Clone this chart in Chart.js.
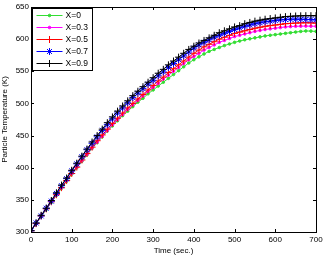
<!DOCTYPE html>
<html>
<head>
<meta charset="utf-8">
<script src="https://cdn.jsdelivr.net/npm/chart.js@4/dist/chart.umd.min.js"></script>
<style>
  html, body { margin: 0; padding: 0; background: #fff; }
  #wrap { width: 328px; height: 262px; }
</style>
</head>
<body>
<div id="wrap"><canvas id="chart" width="328" height="262"></canvas></div>
<script>
// time axis, one sample every 12.5 s
const times = [0,12.5,25,37.5,50,62.5,75,87.5,100,112.5,125,137.5,150,162.5,175,187.5,200,212.5,225,237.5,250,262.5,275,287.5,300,312.5,325,337.5,350,362.5,375,387.5,400,412.5,425,437.5,450,462.5,475,487.5,500,512.5,525,537.5,550,562.5,575,587.5,600,612.5,625,637.5,650,662.5,675,687.5,700];

const tempX0 = [302,313,324,335,346,357,368,379,390,400,410,420,430,439,448,457,465,473,481,488,495,502,508,515,521,527,533,539,545,551,557,563,568,572.5,577,581,584,587,590,592.5,595,597,599,600.5,602,603.5,605,606,607,608,609,610,611,612,612.7,612.5,612];
const tempX03 = [302,313,325,336,347,358,369,380,391,401,411,421,431,440,449,458,467,475,483,491,498,505,512,519,525,531,538,544,550,556,562,568,573,578,583,587,591,595,598,601,604,606,608,610,612,613.5,615,616,617,618,619,619.5,620,620.2,620.3,620.2,620];
const tempX05 = [302,313,325,336,347,358,369,380,391,401,412,422,432,442,451,460,469,477,485,493,500,507,514,521,528,535,541,548,554,560,566,572,578,583,588,592,596,600,603,606,609,611,613,615,617,618.5,620,621,622,623,624,624.5,625,625.3,625.5,625.3,625];
const tempX07 = [302,314,325,337,348,360,372,383,395,406,417,428,438,448,458,467,476,485,493,501,509,516,523,530,536,543,549,556,562,568,574,580,586,591,595,599,603,606,609,612,615,617.5,620,622,624,625.5,627,628,629,630,630.5,631,631,631,630.7,630.4,630];
const tempX09 = [302,314,326,337,349,361,373,384,396,407,418,429,440,450,460,470,479,488,496,504,512,519,526,533,540,547,553,560,566,572,578,584,589,594,598,602,606,610,613,616,619,621,624,626,628,629.5,631,632,633,634,635,635.5,636,636.3,636.5,636.5,636.5];

const xTicks = [0,100,200,300,400,500,600,700];
const yTicks = [300,350,400,450,500,550,600,650];

const series = [
  { label: 'X=0',   data: tempX0,  color: '#33dd33', style: 'circle', r: 1.3, order: 4 },
  { label: 'X=0.3', data: tempX03, color: '#ff00ff', style: 'circle', r: 1.3, order: 3 },
  { label: 'X=0.5', data: tempX05, color: '#ff0000', style: 'cross',  r: 3.5, order: 2 },
  { label: 'X=0.7', data: tempX07, color: '#0000ff', style: 'star',   r: 3.5, order: 1 },
  { label: 'X=0.9', data: tempX09, color: '#000000', style: 'cross',  r: 3.5, order: 0 },
];

const FONT = 'Liberation Sans, Arial, sans-serif';

// matlab-ish box with inward ticks on all four sides, plus the legend
const framePlugin = {
  id: 'frame',
  afterDraw(chart) {
    const { ctx, chartArea: a, scales } = chart;
    const tl = 3;
    ctx.save();
    ctx.strokeStyle = '#000';
    ctx.lineWidth = 1;
    ctx.beginPath();
    xTicks.forEach(v => {
      const px = Math.round(scales.x.getPixelForValue(v)) + 0.5;
      ctx.moveTo(px, a.bottom); ctx.lineTo(px, a.bottom - tl);
      ctx.moveTo(px, a.top); ctx.lineTo(px, a.top + tl);
    });
    yTicks.forEach(v => {
      const py = Math.round(scales.y.getPixelForValue(v)) + 0.5;
      ctx.moveTo(a.left, py); ctx.lineTo(a.left + tl, py);
      ctx.moveTo(a.right, py); ctx.lineTo(a.right - tl, py);
    });
    ctx.stroke();
    ctx.strokeRect(Math.round(a.left) + 0.5, Math.round(a.top) + 0.5,
      Math.round(a.right - a.left), Math.round(a.bottom - a.top));

    const lx = Math.round(a.left) + 1.5, ly = Math.round(a.top) + 1.5;
    const lw = 60, lh = 62;
    ctx.fillStyle = '#fff';
    ctx.fillRect(lx, ly, lw, lh);
    ctx.strokeStyle = '#000';
    ctx.strokeRect(lx, ly, lw, lh);
    ctx.font = '8.5px ' + FONT;
    ctx.textBaseline = 'middle';
    series.forEach((s, i) => {
      const y = ly + 7 + i * 12;
      ctx.strokeStyle = s.color;
      ctx.fillStyle = s.color;
      ctx.lineWidth = 1;
      ctx.beginPath();
      ctx.moveTo(lx + 4, y); ctx.lineTo(lx + 30, y);
      ctx.stroke();
      Chart.helpers.drawPoint(ctx, { pointStyle: s.style, radius: s.r, borderWidth: 1 }, lx + 17, y);
      ctx.fillStyle = '#000';
      ctx.fillText(s.label, lx + 33, y + 0.5);
    });
    ctx.restore();
  }
};

new Chart(document.getElementById('chart'), {
  type: 'line',
  data: {
    datasets: series.map(s => ({
      label: s.label,
      data: s.data.map((v, i) => ({ x: times[i], y: v })),
      borderColor: s.color,
      backgroundColor: s.color,
      pointBorderColor: s.color,
      pointBackgroundColor: s.color,
      pointStyle: s.style,
      pointRadius: s.r,
      pointBorderWidth: 1,
      borderWidth: 1,
      tension: 0,
      order: s.order,
    })),
  },
  options: {
    responsive: false,
    animation: false,
    events: [],
    layout: { padding: { top: 7, right: 12, left: 0, bottom: 6 } },
    plugins: { legend: { display: false }, tooltip: { enabled: false } },
    scales: {
      x: {
        type: 'linear', min: 0, max: 700,
        grid: { display: false, drawTicks: false },
        border: { display: false },
        afterBuildTicks: ax => { ax.ticks = xTicks.map(v => ({ value: v })); },
        afterFit: ax => { ax.height = 24; },
        ticks: { color: '#000', font: { family: FONT, size: 8 }, padding: 3, maxRotation: 0 },
        title: { display: true, text: 'Time (sec.)', color: '#000', font: { family: FONT, size: 8 }, padding: { top: 1, bottom: 0 } },
      },
      y: {
        min: 300, max: 650,
        grid: { display: false, drawTicks: false },
        border: { display: false },
        afterBuildTicks: ax => { ax.ticks = yTicks.map(v => ({ value: v })); },
        afterFit: ax => { ax.width = 31; },
        ticks: { color: '#000', font: { family: FONT, size: 8 }, padding: 2 },
        title: { display: true, text: 'Particle Temperature (K)', color: '#000', font: { family: FONT, size: 8 }, padding: { top: 0, bottom: 0 } },
      },
    },
  },
  plugins: [framePlugin],
});
</script>
</body>
</html>
